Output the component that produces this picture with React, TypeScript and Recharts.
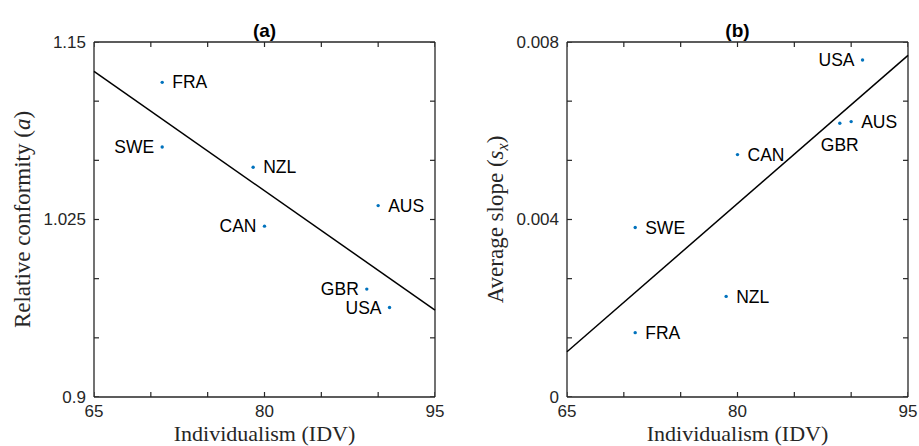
import React from "react";
import { ScatterChart, Scatter, XAxis, YAxis, ReferenceLine } from "recharts";

const countries = ["FRA", "SWE", "NZL", "CAN", "AUS", "GBR", "USA"];
const individualism = [71, 71, 79, 80, 90, 89, 91];
const conformity = [1.1216, 1.0761, 1.0618, 1.0203, 1.0348, 0.976, 0.963];
const avgSlope = [0.00145, 0.00382, 0.002267, 0.005463, 0.006206, 0.006168, 0.007595];
const labelSideA = ["right", "left", "right", "left", "right", "left", "left"];
const labelSideB = ["right", "right", "right", "right", "right", "below", "left"];

const fitX = [65, 95];
const fitA = [1.1293, 0.9612];
const fitB = [0.00102, 0.0077];

const xTicks = [65, 70, 75, 80, 85, 90, 95];
const xTickLabels = ["65", "", "", "80", "", "", "95"];
const yTicksA = [0.9, 0.941667, 0.983333, 1.025, 1.066667, 1.108333, 1.15];
const yTickLabelsA = ["0.9", "", "", "1.025", "", "", "1.15"];
const yTicksB = [0, 0.001333, 0.002667, 0.004, 0.005333, 0.006667, 0.008];
const yTickLabelsB = ["0", "", "", "0.004", "", "", "0.008"];

const PLOT_W = 341;
const PLOT_H = 355;
const PLOT_TOP = 42;
const TICK_LEN = 5;
const INK = "#262626";
const DOT = "#0072BD";
const SANS = "'Liberation Sans', Arial, Helvetica, sans-serif";
const SERIF = "'Liberation Serif', 'Times New Roman', serif";

function makeXTick(ticks: number[], labels: string[]) {
  return (props: any) => {
    const i = ticks.indexOf(props.payload.value);
    const text = i >= 0 ? labels[i] : "";
    if (!text) return <g />;
    return (
      <text x={props.x} y={Number(props.y) + 20} textAnchor="middle" fontSize={17} fontFamily={SANS} fill={INK}>
        {text}
      </text>
    );
  };
}

function makeYTick(ticks: number[], labels: string[]) {
  return (props: any) => {
    const i = ticks.findIndex((t) => Math.abs(t - props.payload.value) < 1e-9);
    const text = i >= 0 ? labels[i] : "";
    if (!text) return <g />;
    return (
      <text x={Number(props.x) - 8} y={props.y} dy="0.35em" textAnchor="end" fontSize={17} fontFamily={SANS} fill={INK}>
        {text}
      </text>
    );
  };
}

// inward tick mark drawn at a point placed by the axis scales
function tickMark(dir: "up" | "down" | "left" | "right") {
  return (props: any) => {
    const { cx, cy } = props;
    let d = "";
    if (dir === "up") d = `M${cx},${cy}V${cy - TICK_LEN}`;
    if (dir === "down") d = `M${cx},${cy}V${cy + TICK_LEN}`;
    if (dir === "right") d = `M${cx},${cy}H${cx + TICK_LEN}`;
    if (dir === "left") d = `M${cx},${cy}H${cx - TICK_LEN}`;
    return <path d={d} stroke={INK} strokeWidth={1.2} fill="none" />;
  };
}

function CountryDot(props: any) {
  const { cx, cy, payload } = props;
  let label;
  if (payload.side === "left") {
    label = (
      <text x={cx - 8} y={cy} dy="0.35em" textAnchor="end" fontSize={17.5} fontFamily={SANS} fill="#000">
        {payload.name}
      </text>
    );
  } else if (payload.side === "below") {
    label = (
      <text x={cx} y={cy + 22} dy="0.35em" textAnchor="middle" fontSize={17.5} fontFamily={SANS} fill="#000">
        {payload.name}
      </text>
    );
  } else {
    label = (
      <text x={cx + 10} y={cy} dy="0.35em" textAnchor="start" fontSize={17.5} fontFamily={SANS} fill="#000">
        {payload.name}
      </text>
    );
  }
  return (
    <g>
      <circle cx={cx} cy={cy} r={1.7} fill={DOT} />
      {label}
    </g>
  );
}

type PanelProps = {
  title: string;
  values: number[];
  sides: string[];
  fit: number[];
  yTicks: number[];
  yTickLabels: string[];
  yLabel: React.ReactNode;
  left: number;
  width: number;
  plotLeft: number;
};

function Panel({ title, values, sides, fit, yTicks, yTickLabels, yLabel, left, width, plotLeft }: PanelProps) {
  const points = countries.map((name, i) => ({ name, x: individualism[i], y: values[i], side: sides[i] }));
  const yMin = yTicks[0];
  const yMax = yTicks[yTicks.length - 1];
  const xMin = xTicks[0];
  const xMax = xTicks[xTicks.length - 1];
  const bottomTicks = xTicks.map((t) => ({ x: t, y: yMin }));
  const topTicks = xTicks.map((t) => ({ x: t, y: yMax }));
  const leftTicks = yTicks.map((t) => ({ x: xMin, y: t }));
  const rightTicks = yTicks.map((t) => ({ x: xMax, y: t }));
  const frame = [
    [{ x: xMin, y: yMin }, { x: xMax, y: yMin }],
    [{ x: xMin, y: yMax }, { x: xMax, y: yMax }],
    [{ x: xMin, y: yMin }, { x: xMin, y: yMax }],
    [{ x: xMax, y: yMin }, { x: xMax, y: yMax }],
  ];
  const bottomH = 446 - PLOT_TOP - PLOT_H;
  const labelX = plotLeft - 72;
  const labelY = PLOT_TOP + PLOT_H / 2;
  return (
    <div style={{ position: "absolute", left, top: 0, width, height: 446 }}>
      <ScatterChart
        width={width}
        height={446}
        margin={{ top: PLOT_TOP, left: 0, right: width - plotLeft - PLOT_W, bottom: 0 }}
      >
        <XAxis
          type="number"
          dataKey="x"
          domain={[xMin, xMax]}
          ticks={xTicks}
          interval={0}
          height={bottomH}
          tickSize={0}
          tickMargin={0}
          tickLine={false}
          axisLine={false}
          allowDataOverflow
          tick={makeXTick(xTicks, xTickLabels)}
        />
        <YAxis
          type="number"
          dataKey="y"
          domain={[yMin, yMax]}
          ticks={yTicks}
          interval={0}
          width={plotLeft}
          tickSize={0}
          tickMargin={0}
          tickLine={false}
          axisLine={false}
          allowDataOverflow
          tick={makeYTick(yTicks, yTickLabels)}
        />
        {frame.map((seg, i) => (
          <ReferenceLine key={`frame${i}`} segment={seg} ifOverflow="visible" stroke={INK} strokeWidth={1.3} />
        ))}
        <ReferenceLine
          segment={[
            { x: fitX[0], y: fit[0] },
            { x: fitX[1], y: fit[1] },
          ]}
          stroke="#000"
          strokeWidth={1.5}
        />
        <Scatter data={bottomTicks} shape={tickMark("up")} isAnimationActive={false} />
        <Scatter data={topTicks} shape={tickMark("down")} isAnimationActive={false} />
        <Scatter data={leftTicks} shape={tickMark("right")} isAnimationActive={false} />
        <Scatter data={rightTicks} shape={tickMark("left")} isAnimationActive={false} />
        <Scatter data={points} shape={CountryDot} isAnimationActive={false} />
      </ScatterChart>
      <svg width={width} height={446} style={{ position: "absolute", left: 0, top: 0, pointerEvents: "none" }}>
        <text x={plotLeft + PLOT_W / 2} y={37} textAnchor="middle" fontSize={19} fontWeight="bold" fontFamily={SANS} fill="#000">
          {title}
        </text>
        <text x={plotLeft + PLOT_W / 2} y={441} textAnchor="middle" fontSize={22} fontFamily={SERIF} fill={INK}>
          Individualism (IDV)
        </text>
        <text
          x={labelX}
          y={labelY}
          dy="0.35em"
          textAnchor="middle"
          transform={`rotate(-90 ${labelX} ${labelY})`}
          fontSize={23}
          fontFamily={SERIF}
          fill={INK}
        >
          {yLabel}
        </text>
      </svg>
    </div>
  );
}

export default function App() {
  return (
    <div style={{ position: "absolute", left: 0, top: 0, width: 919, height: 446, background: "#fff" }}>
      <Panel
        title="(a)"
        values={conformity}
        sides={labelSideA}
        fit={fitA}
        yTicks={yTicksA}
        yTickLabels={yTickLabelsA}
        yLabel={
          <>
            Relative conformity (<tspan fontStyle="italic">a</tspan>)
          </>
        }
        left={0}
        width={459}
        plotLeft={94}
      />
      <Panel
        title="(b)"
        values={avgSlope}
        sides={labelSideB}
        fit={fitB}
        yTicks={yTicksB}
        yTickLabels={yTickLabelsB}
        yLabel={
          <>
            Average slope (<tspan fontStyle="italic">s</tspan>
            <tspan fontStyle="italic" fontSize={16} dy={5}>x</tspan>
            <tspan dy={-5}>)</tspan>
          </>
        }
        left={459}
        width={460}
        plotLeft={108}
      />
    </div>
  );
}
